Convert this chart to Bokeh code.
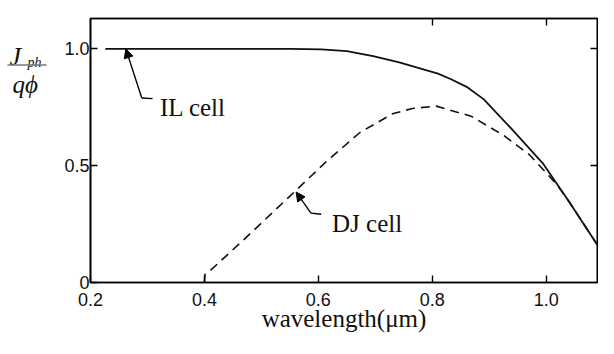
from bokeh.plotting import figure
from bokeh.layouts import row
from bokeh.models import Range1d, LinearAxis, FixedTicker, Label, Arrow, NormalHead
from bokeh.core.properties import value
from bokeh.embed import file_html
from bokeh.resources import INLINE

# ---- data ----
il_wavelength = [0.226, 0.40, 0.55, 0.605, 0.65, 0.696, 0.742, 0.81, 0.833,
                 0.862, 0.89, 0.94, 0.994, 1.039, 1.097]
il_response = [1.00, 1.00, 1.00, 0.998, 0.99, 0.969, 0.942, 0.894, 0.870,
               0.835, 0.785, 0.655, 0.510, 0.350, 0.134]

dj_wavelength = [0.400, 0.401, 0.412, 0.472, 0.558, 0.615, 0.673, 0.730,
                 0.765, 0.807, 0.868, 0.925, 0.971, 1.017, 1.039, 1.097]
dj_response = [0.000, 0.035, 0.055, 0.190, 0.388, 0.520, 0.642, 0.722,
               0.745, 0.755, 0.712, 0.630, 0.546, 0.424, 0.350, 0.134]

x_ticks = [0.2, 0.4, 0.6, 0.8, 1.0]
x_tick_labels = ["0.2", "0.4", "0.6", "0.8", "1.0"]
y_ticks = [0, 0.5, 1.0]
y_tick_labels = ["0", "0.5", "1.0"]
x_title = "wavelength(\u03bcm)"

X0, X1, Y0, Y1 = 0.2, 1.09, 0.0, 1.13

TOTAL_W, H = 598, 338
LW = 50                      # width of the small y-label panel
W = TOTAL_W - LW
BL, BT, FW, FH = 90 - LW, 18, 507, 264

p = figure(width=W, height=H, output_backend="svg", toolbar_location=None,
           title=None,
           x_range=Range1d(X0, X1), y_range=Range1d(Y0, Y1),
           min_border_left=BL, min_border_top=BT,
           min_border_right=W - BL - FW, min_border_bottom=H - BT - FH,
           x_axis_type=None, y_axis_type=None)
p.grid.visible = False
p.outline_line_color = "black"
p.outline_line_width = 1.6
p.background_fill_color = "white"
p.border_fill_color = "white"

tick_font = "Liberation Sans"
serif = "Liberation Serif"

def style_axis(ax, ticks, labels=None, show_labels=True, standoff=6):
    ax.ticker = FixedTicker(ticks=ticks)
    ax.axis_line_color = "black"
    ax.axis_line_width = 1.6
    ax.major_tick_line_color = "black"
    ax.major_tick_line_width = 1.4
    ax.major_tick_in = 7
    ax.major_tick_out = 0
    ax.minor_tick_line_color = None
    if show_labels:
        ax.major_label_text_font = tick_font
        ax.major_label_text_font_size = "18px"
        ax.major_label_text_color = "#111111"
        ax.major_label_standoff = standoff
        if labels is not None:
            ax.major_label_overrides = {t: l for t, l in zip(ticks, labels)}
    else:
        ax.major_label_text_font_size = "1px"
        ax.major_label_text_color = None
        ax.major_label_standoff = 0

xb = LinearAxis()
style_axis(xb, x_ticks, x_tick_labels, standoff=10)
xb.axis_label = x_title
xb.axis_label_text_font = serif
xb.axis_label_text_font_style = "normal"
xb.axis_label_text_font_size = "25px"
xb.axis_label_text_color = "#111111"
xb.axis_label_standoff = -4
p.add_layout(xb, "below")

yl = LinearAxis()
style_axis(yl, y_ticks, y_tick_labels, standoff=1)
p.add_layout(yl, "left")

xt = LinearAxis()
style_axis(xt, [0.8, 1.0], show_labels=False)
p.add_layout(xt, "above")

yr = LinearAxis()
style_axis(yr, [0.5, 1.0], show_labels=False)
p.add_layout(yr, "right")

# ---- curves ----
p.line(il_wavelength, il_response, line_color="#111111", line_width=1.8)
p.line(dj_wavelength, dj_response, line_color="#111111", line_width=1.6,
       line_dash="9 6")

# ---- annotations (data coordinates) ----
def arrow_leader(head, bend, end):
    p.add_layout(Arrow(end=NormalHead(size=9, fill_color="black",
                                      line_color="black", line_width=1),
                       x_start=bend[0], y_start=bend[1],
                       x_end=head[0], y_end=head[1],
                       line_color="black", line_width=1.4))
    p.add_layout(Arrow(end=None, x_start=bend[0], y_start=bend[1],
                       x_end=end[0], y_end=end[1],
                       line_color="black", line_width=1.4))

arrow_leader((0.262, 1.0), (0.290, 0.79), (0.309, 0.787))
p.add_layout(Label(x=0.322, y=0.748, text="IL cell", text_font=serif,
                   text_font_size="25px", text_color="#111111",
                   text_baseline="alphabetic"))

arrow_leader((0.561, 0.387), (0.587, 0.297), (0.605, 0.292))
p.add_layout(Label(x=0.624, y=0.254, text="DJ cell", text_font=serif,
                   text_font_size="25px", text_color="#111111",
                   text_baseline="alphabetic"))

# ---- y-axis label panel: fraction J_ph / q phi (pixel coordinates) ----
q = figure(width=LW, height=H, output_backend="svg", toolbar_location=None,
           title=None, x_range=Range1d(0, LW), y_range=Range1d(H, 0),
           min_border=0, x_axis_type=None, y_axis_type=None)
q.grid.visible = False
q.outline_line_color = None
q.background_fill_color = "white"
q.border_fill_color = "white"

q.text(x=[9], y=[49], text=["J"], text_font=value(serif),
       text_font_style="italic", text_font_size="26px",
       text_color="#111111", text_baseline="alphabetic")
q.text(x=[27], y=[56], text=["ph"], text_font=value(serif),
       text_font_style="italic", text_font_size="14px",
       text_color="#111111", text_baseline="alphabetic")
q.segment(x0=[7], y0=[59.5], x1=[46], y1=[59.5], line_color="#777777",
          line_width=1.6)
q.text(x=[12], y=[85], text=["q\u03d5"], text_font=value(serif),
       text_font_style="italic", text_font_size="25px",
       text_color="#111111", text_baseline="alphabetic")

layout = row(q, p, spacing=0)
open("out.html", "w").write(file_html(layout, INLINE))
